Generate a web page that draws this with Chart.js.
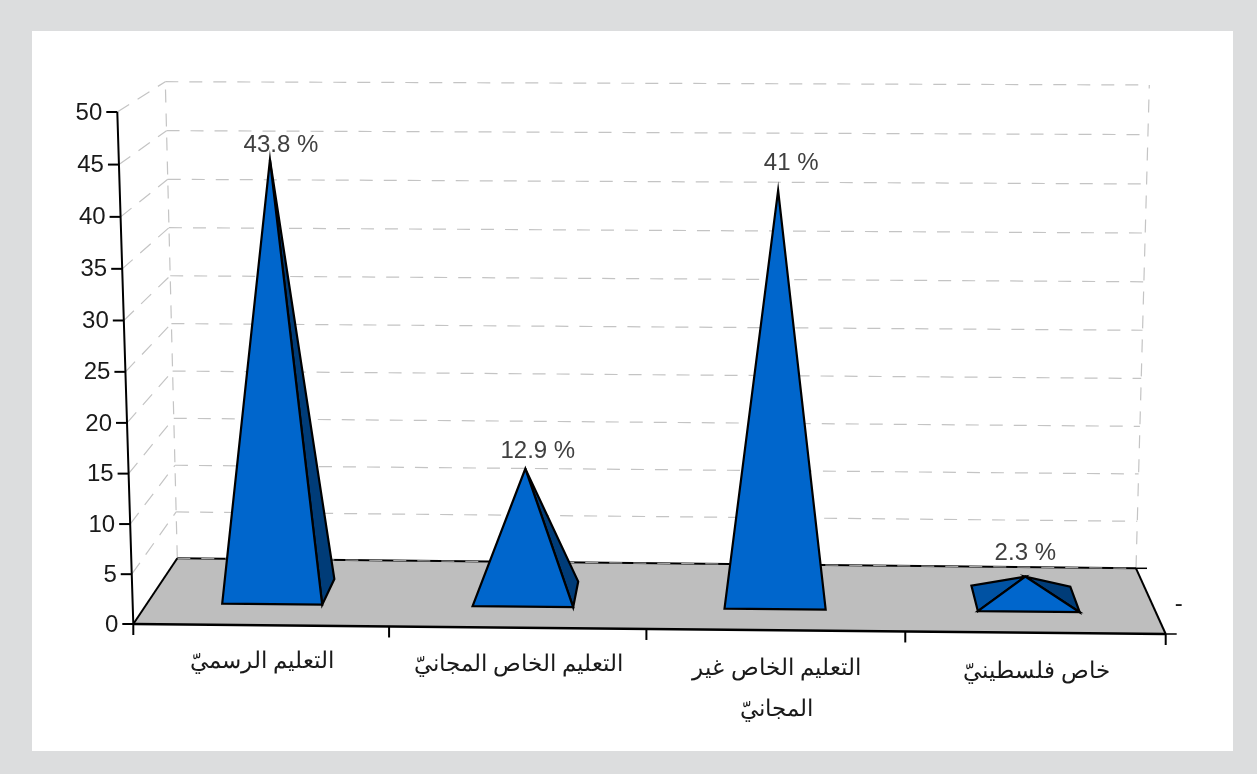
<!DOCTYPE html>
<html>
<head>
<meta charset="utf-8">
<style>
html,body{margin:0;padding:0;background:#dcddde;}
#panel{position:absolute;left:32px;top:31px;width:1201px;height:720px;background:#fff;}
#wrap{position:absolute;left:0;top:0;width:1257px;height:774px;}
</style>
<script src="https://cdn.jsdelivr.net/npm/chart.js@4/dist/chart.umd.js"></script>
</head>
<body>
<div id="panel"></div>
<div id="wrap"><canvas id="c" width="1257" height="774"></canvas></div>
<script>
const categories = [
  ["التعليم الرسميّ"],
  ["التعليم الخاص المجانيّ"],
  ["التعليم الخاص غير","المجانيّ"],
  ["خاص فلسطينيّ"]
];
const values = [43.8, 12.9, 41, 2.3];
const valueLabels = ["43.8 %", "12.9 %", "41 %", "2.3 %"];
const seriesName = "-";
const yTickStep = 5;
const yMax = 50;

// 3D box as seen in the picture: corners of the plot volume
const box = {
  front: { bl:[133.3,624], br:[1165.7,634], tl:[117.3,112], tr:[1183,116] },
  back:  { bl:[177.3,558.3], br:[1136,568.3], tl:[165.3,81.7], tr:[1149.3,85] }
};
const depthFront = 0.32, depthBack = 0.71, depthMid = 0.515;
const labelShift = [[11,-14],[12.5,-17],[13,-27],[0,-23]];
const catLabelDrop = 36, catLineGap = 41;
const faceMinOffset = 4;

function lerp(a,b,t){return a+(b-a)*t;}
function lerpP(p,q,t){return [lerp(p[0],q[0],t),lerp(p[1],q[1],t)];}
function project(chart,px,py,d){
  const a = chart.chartArea;
  const u0 = (px-a.left)/(a.right-a.left);
  const u = u0 - 0.012*u0*(1-u0);
  const t0 = (a.bottom-py)/(a.bottom-a.top);
  const t = t0 - 0.03*t0*(1-t0);
  const pl = (f)=>lerpP(lerpP(f.bl,f.br,u),lerpP(f.tl,f.tr,u),t);
  return lerpP(pl(box.front),pl(box.back),d);
}
function poly(ctx,pts,fill,stroke,w){
  ctx.beginPath();
  pts.forEach((p,i)=> i?ctx.lineTo(p[0],p[1]):ctx.moveTo(p[0],p[1]));
  ctx.closePath();
  if(fill){ctx.fillStyle=fill;ctx.fill();}
  if(stroke){ctx.strokeStyle=stroke;ctx.lineWidth=w;ctx.lineJoin='miter';ctx.stroke();}
}
function line(ctx,p,q,color,w,dash){
  ctx.save();
  ctx.beginPath();ctx.moveTo(p[0],p[1]);ctx.lineTo(q[0],q[1]);
  ctx.strokeStyle=color;ctx.lineWidth=w;ctx.setLineDash(dash||[]);ctx.stroke();
  ctx.restore();
}
// signed distance of p from the line a->b (negative = left of it when a->b points up)
function side(a,b,p){
  const dx=b[0]-a[0], dy=b[1]-a[1];
  return (dx*(p[1]-a[1])-dy*(p[0]-a[0]))/Math.hypot(dx,dy);
}

const pyramid3d = {
  id:'pyramid3d',
  beforeDatasetsDraw(chart){
    const ctx = chart.ctx, a = chart.chartArea, y = chart.scales.y, x = chart.scales.x;
    const L=a.left,R=a.right,B=a.bottom,T=a.top;
    const gridCol='#c4c4c4', dash=[13,11];
    ctx.save();
    // walls grid
    y.ticks.forEach(t=>{
      if(t.value===0) return;
      const py=y.getPixelForValue(t.value);
      line(ctx,project(chart,L,py,0),project(chart,L,py,1),gridCol,1.2,[14,10]);
      line(ctx,project(chart,L,py,1),project(chart,R,py,1),gridCol,1.2,dash);
    });
    line(ctx,project(chart,L,B,1),project(chart,L,T,1),gridCol,1.2,dash);
    line(ctx,project(chart,R,B,1),project(chart,R,T,1),gridCol,1.2,dash);
    // floor
    poly(ctx,[project(chart,L,B,0),project(chart,R,B,0),project(chart,R,B,1),project(chart,L,B,1)],'#bebebe');
    line(ctx,project(chart,L,B,1),project(chart,R,B,1),'#000',2);
    line(ctx,project(chart,L,B,1),project(chart,R,B,1),'#b8b8b8',1,dash);
    line(ctx,project(chart,L,B,0),project(chart,L,B,1),'#000',2);
    line(ctx,project(chart,R,B,0),project(chart,R,B,1),'#000',2);
    // axes
    line(ctx,project(chart,L,B,0),project(chart,L,T,0),'#000',2);
    line(ctx,project(chart,L,B,0),project(chart,R,B,0),'#000',2.4);
    // y ticks + labels
    ctx.textBaseline='middle';ctx.textAlign='right';ctx.font='24px "Liberation Sans", Arial, sans-serif';ctx.fillStyle='#1a1a1a';
    y.ticks.forEach(t=>{
      const p=project(chart,L,y.getPixelForValue(t.value),0);
      line(ctx,[p[0]-11,p[1]],p,'#000',2);
      ctx.fillStyle='#1a1a1a';
      ctx.fillText(t.label,p[0]-15,p[1]+1);
    });
    // x ticks
    const n=categories.length;
    for(let i=0;i<=n;i++){
      const p=project(chart,lerp(L,R,i/n),B,0);
      line(ctx,p,[p[0],p[1]+11],'#000',2);
    }
    const rb=project(chart,R,B,1), rf=project(chart,R,B,0);
    line(ctx,rb,[rb[0]+11,rb[1]],'#000',1.5);
    line(ctx,rf,[rf[0]+11,rf[1]],'#000',1.5);
    // series label on depth axis
    ctx.textAlign='center';ctx.font='24px "Liberation Sans", Arial, sans-serif';ctx.fillStyle='#1a1a1a';
    const sp=lerpP(rf,rb,0.5);
    ctx.fillText(seriesName,sp[0]+28,sp[1]+3);
    // category labels
    ctx.font='23px "Liberation Sans", Arial, sans-serif';ctx.direction='rtl';
    categories.forEach((lines,i)=>{
      const cx=x.getPixelForTick(i);
      const p=project(chart,cx,B,0);
      lines.forEach((s,j)=>{
        ctx.fillStyle='#1a1a1a';
        ctx.fillText(s,p[0]+1,p[1]+catLabelDrop+i+j*catLineGap);
      });
    });
    ctx.direction='ltr';
    // pyramids
    const meta=chart.getDatasetMeta(0), ds=chart.data.datasets[0];
    meta.data.forEach((el,i)=>{
      const hw=el.width/2, cx=el.x;
      const fl=project(chart,cx-hw,B,depthFront), fr=project(chart,cx+hw,B,depthFront);
      const bl=project(chart,cx-hw,B,depthBack), br=project(chart,cx+hw,B,depthBack);
      const tip=project(chart,cx,el.y,depthMid);
      if(side(fl,tip,bl)<-faceMinOffset) poly(ctx,[fl,bl,tip],ds.leftColor,'#000',2.2);
      if(side(fr,tip,br)>faceMinOffset) poly(ctx,[fr,br,tip],ds.rightColor,'#000',2.2);
      poly(ctx,[fl,fr,tip],ds.backgroundColor,'#000',2.2);
      ctx.font='24px "Liberation Sans", Arial, sans-serif';ctx.fillStyle='#404040';ctx.textAlign='center';
      ctx.fillText(valueLabels[i],tip[0]+labelShift[i][0],tip[1]+labelShift[i][1]);
    });
    ctx.restore();
    return false;
  }
};

new Chart(document.getElementById('c'),{
  type:'bar',
  data:{
    labels:categories,
    datasets:[{
      label:seriesName,
      data:values,
      backgroundColor:'#0066cc',
      leftColor:'#0052a3',
      rightColor:'#003c78',
      barPercentage:0.4,
      categoryPercentage:1
    }]
  },
  options:{
    responsive:false,
    animation:false,
    layout:{padding:{left:133.3,right:1257-1165.7,top:112,bottom:774-624}},
    plugins:{legend:{display:false},tooltip:{enabled:false}},
    scales:{
      x:{display:false,offset:true,grid:{display:false}},
      y:{display:false,min:0,max:yMax,ticks:{stepSize:yTickStep},grid:{display:false}}
    }
  },
  plugins:[pyramid3d]
});
</script>
</body>
</html>
